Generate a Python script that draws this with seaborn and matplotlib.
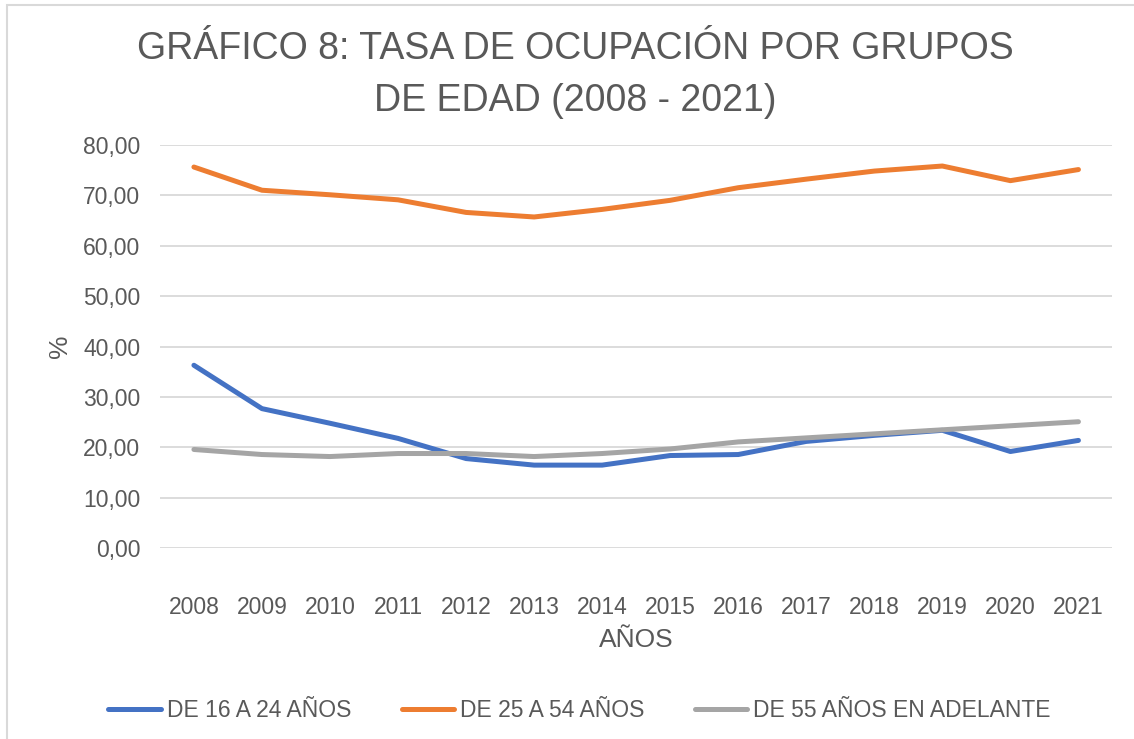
import pandas as pd
import matplotlib
matplotlib.use("Agg")
import matplotlib.pyplot as plt
import seaborn as sns
from matplotlib.patches import Rectangle

years = [2008, 2009, 2010, 2011, 2012, 2013, 2014, 2015, 2016, 2017, 2018, 2019, 2020, 2021]
age_16_24 = [36.3, 27.7, 24.8, 21.8, 17.8, 16.5, 16.5, 18.4, 18.6, 21.2, 22.4, 23.4, 19.2, 21.4]
age_25_54 = [75.6, 71.0, 70.1, 69.1, 66.6, 65.7, 67.2, 69.0, 71.5, 73.2, 74.8, 75.8, 72.9, 75.1]
age_55_plus = [19.6, 18.6, 18.2, 18.8, 18.8, 18.2, 18.8, 19.7, 21.1, 21.9, 22.7, 23.5, 24.3, 25.1]
series_names = ["DE 16 A 24 AÑOS", "DE 25 A 54 AÑOS", "DE 55 AÑOS EN ADELANTE"]
colors = ["#4472C4", "#ED7D31", "#A5A5A5"]

df = pd.DataFrame({"year": [str(y) for y in years],
                   series_names[0]: age_16_24,
                   series_names[1]: age_25_54,
                   series_names[2]: age_55_plus})
long = df.melt(id_vars="year", var_name="serie", value_name="tasa")

sns.set_theme(style="white")
plt.rcParams['font.family'] = ['Liberation Sans', 'DejaVu Sans']
txt = "#595959"

fig = plt.figure(figsize=(11.34, 7.39), dpi=100)
ax = fig.add_axes([0.141, 0.258, 0.840, 0.546])

sns.lineplot(data=long, x="year", y="tasa", hue="serie", palette=colors,
             hue_order=series_names, linewidth=3.6, ax=ax, sort=False)
for ln in ax.get_lines():
    ln.set_solid_capstyle("round")
    ln.set_solid_joinstyle("round")

ax.set_xlim(-0.5, len(years) - 0.5)
ax.set_ylim(0, 80)
ax.set_yticks(range(0, 81, 10))
ax.set_yticklabels([f"{v},00" for v in range(0, 81, 10)])
ax.grid(axis="y", color="#D9D9D9", linewidth=1.3)
ax.set_axisbelow(True)
for s in ax.spines.values():
    s.set_visible(False)
ax.tick_params(axis="both", length=0, labelsize=16.5, colors=txt)
ax.tick_params(axis="x", pad=34)
ax.tick_params(axis="y", pad=14)

ax.set_xlabel("AÑOS", fontsize=19, color=txt, labelpad=7)
ax.set_ylabel("%", fontsize=19, color=txt, labelpad=8)

fig.text(0.507, 0.898, "GRÁFICO 8: TASA DE OCUPACIÓN POR GRUPOS\nDE EDAD (2008 - 2021)",
         ha="center", va="center", fontsize=27, color=txt, linespacing=1.58)

handles, labels = ax.get_legend_handles_labels()
ax.legend(handles, labels, loc="center", ncol=3, frameon=False, fontsize=16.5,
          labelcolor=txt, handlelength=2.3, handletextpad=0.25, columnspacing=2.2)
ax.get_legend().set_bbox_to_anchor((0.511, 0.039), transform=fig.transFigure)

fig.add_artist(Rectangle((7 / 1134, -0.05), 1.2, 1 - 5 / 739 + 0.05, transform=fig.transFigure,
                         fill=False, edgecolor="#D9D9D9", linewidth=1.5))

fig.savefig("out.png", dpi=100, facecolor="white")
